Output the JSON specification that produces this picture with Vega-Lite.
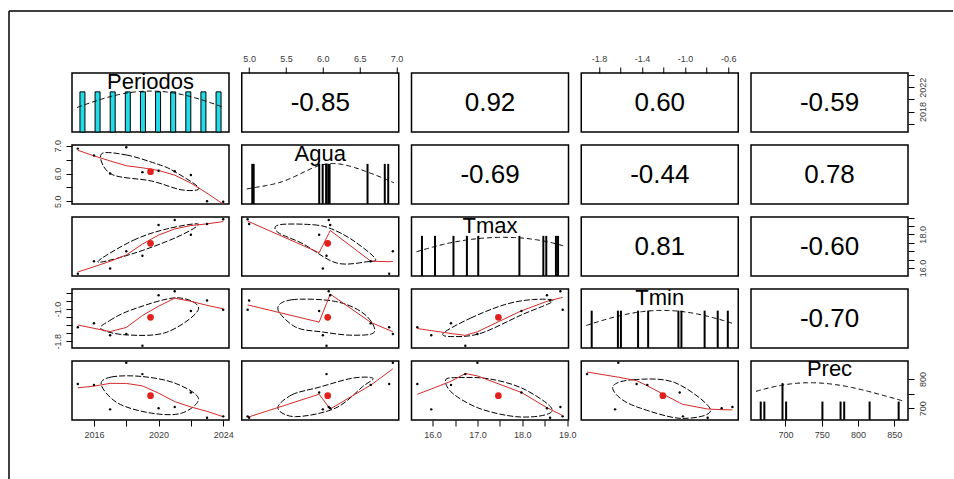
{
"$schema": "https://vega.github.io/schema/vega-lite/v6.json",
"padding": {"left": 8, "top": 10, "right": 0, "bottom": 0},
"autosize": {"type": "pad"},
"datasets": {
"d": [
{"Periodos":2015,"Agua":6.90,"Tmax":15.66,"Tmin":-1.45,"Prec":783},
{"Periodos":2016,"Agua":6.65,"Tmax":16.41,"Tmin":-1.35,"Prec":780},
{"Periodos":2017,"Agua":6.00,"Tmax":15.97,"Tmin":-1.65,"Prec":696},
{"Periodos":2018,"Agua":6.95,"Tmax":17.00,"Tmin":-1.62,"Prec":856},
{"Periodos":2019,"Agua":6.05,"Tmax":16.73,"Tmin":-1.91,"Prec":817},
{"Periodos":2020,"Agua":6.10,"Tmax":18.55,"Tmin":-0.66,"Prec":700},
{"Periodos":2021,"Agua":6.08,"Tmax":18.85,"Tmin":-0.56,"Prec":704},
{"Periodos":2022,"Agua":5.95,"Tmax":17.98,"Tmin":-1.05,"Prec":754},
{"Periodos":2023,"Agua":5.00,"Tmax":18.62,"Tmin":-0.79,"Prec":667},
{"Periodos":2024,"Agua":4.98,"Tmax":18.90,"Tmin":-1.02,"Prec":672}
],
"eA": [{"i":0,"Periodos":2016.45,"Agua":6.70},{"i":1,"Periodos":2018.0,"Agua":6.67},{"i":2,"Periodos":2019.98,"Agua":6.33},{"i":3,"Periodos":2020.93,"Agua":6.09},{"i":4,"Periodos":2022.49,"Agua":5.48},{"i":5,"Periodos":2021.43,"Agua":5.41},{"i":6,"Periodos":2019.56,"Agua":5.73},{"i":7,"Periodos":2017.07,"Agua":5.98}],
"eB": [{"i":0,"Periodos":2016.24,"Tmax":16.37},{"i":1,"Periodos":2018.42,"Tmax":17.64},{"i":2,"Periodos":2020.5,"Tmax":18.32},{"i":3,"Periodos":2022.47,"Tmax":18.61},{"i":4,"Periodos":2021.12,"Tmax":17.83},{"i":5,"Periodos":2018.42,"Tmax":16.86}],
"eC": [{"i":0,"Agua":5.41,"Tmax":18.57},{"i":1,"Agua":5.87,"Tmax":18.57},{"i":2,"Agua":6.12,"Tmax":18.32},{"i":3,"Agua":6.41,"Tmax":17.64},{"i":4,"Agua":6.71,"Tmax":16.57},{"i":5,"Agua":6.59,"Tmax":16.37},{"i":6,"Agua":6.18,"Tmax":16.31},{"i":7,"Agua":5.73,"Tmax":17.44},{"i":8,"Agua":5.39,"Tmax":18.12}],
"eD": [{"i":0,"Periodos":2016.45,"Tmin":-1.494},{"i":1,"Periodos":2016.96,"Tmin":-1.29},{"i":2,"Periodos":2018.42,"Tmin":-1.008},{"i":3,"Periodos":2021.12,"Tmin":-0.723},{"i":4,"Periodos":2022.47,"Tmin":-1.008},{"i":5,"Periodos":2020.5,"Tmin":-1.575},{"i":6,"Periodos":2018.0,"Tmin":-1.64}],
"eE": [{"i":0,"Agua":5.39,"Tmin":-1.0},{"i":1,"Agua":5.58,"Tmin":-0.772},{"i":2,"Agua":6.17,"Tmin":-0.813},{"i":3,"Agua":6.56,"Tmin":-1.12},{"i":4,"Agua":6.7,"Tmin":-1.567},{"i":5,"Agua":6.4,"Tmin":-1.648},{"i":6,"Agua":5.99,"Tmin":-1.567},{"i":7,"Agua":5.63,"Tmin":-1.446}],
"eF": [{"i":0,"Tmax":16.24,"Tmin":-1.599},{"i":1,"Tmax":16.85,"Tmin":-1.224},{"i":2,"Tmax":17.61,"Tmin":-0.891},{"i":3,"Tmax":18.23,"Tmin":-0.767},{"i":4,"Tmax":18.68,"Tmin":-0.808},{"i":5,"Tmax":17.99,"Tmin":-1.142},{"i":6,"Tmax":17.08,"Tmin":-1.599},{"i":7,"Tmax":16.47,"Tmin":-1.682}],
"eG": [{"i":0,"Periodos":2016.45,"Prec":780},{"i":1,"Periodos":2017.07,"Prec":807},{"i":2,"Periodos":2018.94,"Prec":809},{"i":3,"Periodos":2021.01,"Prec":786},{"i":4,"Periodos":2022.47,"Prec":734},{"i":5,"Periodos":2021.43,"Prec":683},{"i":6,"Periodos":2019.56,"Prec":683},{"i":7,"Periodos":2017.49,"Prec":717}],
"eH": [{"i":0,"Agua":5.39,"Prec":700},{"i":1,"Agua":5.58,"Prec":746},{"i":2,"Agua":5.95,"Prec":772},{"i":3,"Agua":6.4,"Prec":803},{"i":4,"Agua":6.68,"Prec":803},{"i":5,"Agua":6.54,"Prec":774},{"i":6,"Agua":6.17,"Prec":700},{"i":7,"Agua":5.63,"Prec":671}],
"eI": [{"i":0,"Tmax":16.29,"Prec":797},{"i":1,"Tmax":16.58,"Prec":805},{"i":2,"Tmax":17.25,"Prec":801},{"i":3,"Tmax":17.99,"Prec":769},{"i":4,"Tmax":18.63,"Prec":705},{"i":5,"Tmax":18.51,"Prec":677},{"i":6,"Tmax":17.85,"Prec":671},{"i":7,"Tmax":17.03,"Prec":700},{"i":8,"Tmax":16.44,"Prec":752}],
"eJ": [{"i":0,"Tmin":-1.667,"Prec":777},{"i":1,"Tmin":-1.477,"Prec":798},{"i":2,"Tmin":-1.096,"Prec":788},{"i":3,"Tmin":-0.763,"Prec":694},{"i":4,"Tmin":-1.033,"Prec":665},{"i":5,"Tmin":-1.413,"Prec":700},{"i":6,"Tmin":-1.604,"Prec":735}]
},
"hconcat": [
{"width": 63, "height": 469, "data": {"values": [{}]}, "view": {"stroke": null},
 "layer": [
  {"mark": {"type": "rule", "color": "black", "strokeWidth": 1.5}, "encoding": {"x": {"datum": 0, "type": "quantitative", "scale": {"domain": [0, 1]}, "axis": null}}},
  {"mark": {"type": "rule", "color": "black", "strokeWidth": 1.5}, "encoding": {"y": {"datum": 1, "type": "quantitative", "scale": {"domain": [0, 1]}, "axis": null}}}
 ]},
{"vconcat": [
 {"width": 881, "height": 62, "data": {"values": [{}]}, "view": {"stroke": null},
  "mark": {"type": "rule", "color": "black", "strokeWidth": 1.5}, "encoding": {"y": {"datum": 1, "type": "quantitative", "scale": {"domain": [0, 1]}, "axis": null}}},
 {"columns": 5, "spacing": {"row": 13, "column": 12.75}, "bounds": "flush",
  "concat": [
   {"width":157,"height":59,"data":{"name":"d"},"title":"Periodos",
    "encoding":{"x":{"field":"Periodos","type":"quantitative","scale":{"domain":[2014.64,2024.36],"nice":false,"zero":false},"axis":null}},
    "layer":[
     {"transform":[{"aggregate":[{"op":"count","as":"n"}],"groupby":["Periodos"]}],"mark":{"type":"bar","color":"#22dde8","stroke":"black","strokeWidth":1,"size":5},"encoding":{"y":{"field":"n","type":"quantitative","scale":{"domain":[0,1.47]},"axis":null}}},
     {"transform":[{"density":"Periodos","bandwidth":3.4,"extent":[2014.64,2024.36],"steps":120,"as":["Periodos","dens"]}],"mark":{"type":"line","color":"black","strokeWidth":1,"strokeDash":[5,3]},"encoding":{"y":{"field":"dens","type":"quantitative","scale":{"domain":[0,0.124]},"axis":null}}}
    ],"resolve":{"scale":{"y":"independent"}}},
   {"width":157,"height":59,
    "layer":[
     {"data":{"name":"d"},"mark":{"type":"point","opacity":0},"encoding":{"x":{"field":"Agua","type":"quantitative","scale":{"domain":[4.9,7.03],"nice":false,"zero":false},"axis":{"orient":"top","title":null,"values":[5,5.5,6,6.5,7],"format":".1f"}},"y":{"field":"Periodos","type":"quantitative","scale":{"domain":[2014.64,2024.36],"nice":false,"zero":false},"axis":null}}},
     {"data":{"values":[{"r":"-0.85"}]},"mark":{"type":"text","fontSize":26,"color":"black","align":"center","baseline":"middle"},"encoding":{"text":{"field":"r"}}}
    ]},
   {"width":157,"height":59,
    "layer":[
     {"data":{"name":"d"},"mark":{"type":"point","opacity":0},"encoding":{"x":{"field":"Tmax","type":"quantitative","scale":{"domain":[15.53,19.03],"nice":false,"zero":false},"axis":null},"y":{"field":"Periodos","type":"quantitative","scale":{"domain":[2014.64,2024.36],"nice":false,"zero":false},"axis":null}}},
     {"data":{"values":[{"r":"0.92"}]},"mark":{"type":"text","fontSize":26,"color":"black","align":"center","baseline":"middle"},"encoding":{"text":{"field":"r"}}}
    ]},
   {"width":157,"height":59,
    "layer":[
     {"data":{"name":"d"},"mark":{"type":"point","opacity":0},"encoding":{"x":{"field":"Tmin","type":"quantitative","scale":{"domain":[-1.964,-0.506],"nice":false,"zero":false},"axis":{"orient":"top","title":null,"values":[-1.8,-1.6,-1.4,-1.2,-1.0,-0.8,-0.6],"format":".1f","labelExpr":"round(abs(datum.value*10)) % 4 == 2 ? datum.label : ''"}},"y":{"field":"Periodos","type":"quantitative","scale":{"domain":[2014.64,2024.36],"nice":false,"zero":false},"axis":null}}},
     {"data":{"values":[{"r":"0.60"}]},"mark":{"type":"text","fontSize":26,"color":"black","align":"center","baseline":"middle"},"encoding":{"text":{"field":"r"}}}
    ]},
   {"width":157,"height":59,
    "layer":[
     {"data":{"name":"d"},"mark":{"type":"point","opacity":0},"encoding":{"x":{"field":"Prec","type":"quantitative","scale":{"domain":[659.5,862],"nice":false,"zero":false},"axis":null},"y":{"field":"Periodos","type":"quantitative","scale":{"domain":[2014.64,2024.36],"nice":false,"zero":false},"axis":{"orient":"right","title":null,"values":[2016,2018,2020,2022,2024],"format":"d","labelAngle":-90,"labelAlign":"center","labelBaseline":"top","labelExpr":"datum.value % 4 == 2 ? datum.label : ''"}}}},
     {"data":{"values":[{"r":"-0.59"}]},"mark":{"type":"text","fontSize":26,"color":"black","align":"center","baseline":"middle"},"encoding":{"text":{"field":"r"}}}
    ]},

   {"width":157,"height":59,"data":{"name":"d"},
    "encoding":{"x":{"field":"Periodos","type":"quantitative","scale":{"domain":[2014.64,2024.36],"nice":false,"zero":false},"axis":null},
                "y":{"field":"Agua","type":"quantitative","scale":{"domain":[4.9,7.03],"nice":false,"zero":false},"axis":{"orient":"left","title":null,"values":[5,5.5,6,6.5,7],"format":".1f","labelAngle":-90,"labelAlign":"center","labelBaseline":"bottom","labelExpr":"datum.value % 1 == 0 ? datum.label : ''"}}},
    "layer":[
     {"data":{"name":"eA"},"mark":{"type":"line","interpolate":"cardinal-closed","color":"black","strokeWidth":1,"strokeDash":[6,2],"clip":true},"encoding":{"order":{"field":"i","type":"quantitative"}}},
     {"transform":[{"loess":"Agua","on":"Periodos","bandwidth":0.67}],"mark":{"type":"line","color":"#d42a2a","strokeWidth":1}},
     {"mark":{"type":"circle","color":"black","size":6,"opacity":1}},
     {"transform":[{"aggregate":[{"op":"mean","field":"Periodos","as":"Periodos"},{"op":"mean","field":"Agua","as":"Agua"}]}],"mark":{"type":"circle","color":"#e3211c","size":45,"opacity":1}}
    ]},
   {"width":157,"height":59,"data":{"name":"d"},"title":"Agua",
    "encoding":{"x":{"field":"Agua","type":"quantitative","scale":{"domain":[4.9,7.03],"nice":false,"zero":false},"axis":null}},
    "layer":[
     {"transform":[{"aggregate":[{"op":"count","as":"n"}],"groupby":["Agua"]}],"mark":{"type":"bar","color":"black","size":2},"encoding":{"y":{"field":"n","type":"quantitative","scale":{"domain":[0,1.47]},"axis":null}}},
     {"transform":[{"density":"Agua","bandwidth":0.45,"extent":[4.9,7.03],"steps":120,"as":["Agua","dens"]}],"mark":{"type":"line","color":"black","strokeWidth":1,"strokeDash":[5,3]},"encoding":{"y":{"field":"dens","type":"quantitative","scale":{"domain":[0,0.76]},"axis":null}}}
    ],"resolve":{"scale":{"y":"independent"}}},
   {"width":157,"height":59,
    "layer":[
     {"data":{"name":"d"},"mark":{"type":"point","opacity":0},"encoding":{"x":{"field":"Tmax","type":"quantitative","scale":{"domain":[15.53,19.03],"nice":false,"zero":false},"axis":null},"y":{"field":"Agua","type":"quantitative","scale":{"domain":[4.9,7.03],"nice":false,"zero":false},"axis":null}}},
     {"data":{"values":[{"r":"-0.69"}]},"mark":{"type":"text","fontSize":26,"color":"black","align":"center","baseline":"middle"},"encoding":{"text":{"field":"r"}}}
    ]},
   {"width":157,"height":59,
    "layer":[
     {"data":{"name":"d"},"mark":{"type":"point","opacity":0},"encoding":{"x":{"field":"Tmin","type":"quantitative","scale":{"domain":[-1.964,-0.506],"nice":false,"zero":false},"axis":null},"y":{"field":"Agua","type":"quantitative","scale":{"domain":[4.9,7.03],"nice":false,"zero":false},"axis":null}}},
     {"data":{"values":[{"r":"-0.44"}]},"mark":{"type":"text","fontSize":26,"color":"black","align":"center","baseline":"middle"},"encoding":{"text":{"field":"r"}}}
    ]},
   {"width":157,"height":59,
    "layer":[
     {"data":{"name":"d"},"mark":{"type":"point","opacity":0},"encoding":{"x":{"field":"Prec","type":"quantitative","scale":{"domain":[659.5,862],"nice":false,"zero":false},"axis":null},"y":{"field":"Agua","type":"quantitative","scale":{"domain":[4.9,7.03],"nice":false,"zero":false},"axis":null}}},
     {"data":{"values":[{"r":"0.78"}]},"mark":{"type":"text","fontSize":26,"color":"black","align":"center","baseline":"middle"},"encoding":{"text":{"field":"r"}}}
    ]},

   {"width":157,"height":59,"data":{"name":"d"},
    "encoding":{"x":{"field":"Periodos","type":"quantitative","scale":{"domain":[2014.64,2024.36],"nice":false,"zero":false},"axis":null},
                "y":{"field":"Tmax","type":"quantitative","scale":{"domain":[15.53,19.03],"nice":false,"zero":false},"axis":null}},
    "layer":[
     {"data":{"name":"eB"},"mark":{"type":"line","interpolate":"cardinal-closed","color":"black","strokeWidth":1,"strokeDash":[6,2],"clip":true},"encoding":{"order":{"field":"i","type":"quantitative"}}},
     {"transform":[{"loess":"Tmax","on":"Periodos","bandwidth":0.67}],"mark":{"type":"line","color":"#d42a2a","strokeWidth":1}},
     {"mark":{"type":"circle","color":"black","size":6,"opacity":1}},
     {"transform":[{"aggregate":[{"op":"mean","field":"Periodos","as":"Periodos"},{"op":"mean","field":"Tmax","as":"Tmax"}]}],"mark":{"type":"circle","color":"#e3211c","size":45,"opacity":1}}
    ]},
   {"width":157,"height":59,"data":{"name":"d"},
    "encoding":{"x":{"field":"Agua","type":"quantitative","scale":{"domain":[4.9,7.03],"nice":false,"zero":false},"axis":null},
                "y":{"field":"Tmax","type":"quantitative","scale":{"domain":[15.53,19.03],"nice":false,"zero":false},"axis":null}},
    "layer":[
     {"data":{"name":"eC"},"mark":{"type":"line","interpolate":"cardinal-closed","color":"black","strokeWidth":1,"strokeDash":[6,2],"clip":true},"encoding":{"order":{"field":"i","type":"quantitative"}}},
     {"transform":[{"loess":"Tmax","on":"Agua","bandwidth":0.67}],"mark":{"type":"line","color":"#d42a2a","strokeWidth":1}},
     {"mark":{"type":"circle","color":"black","size":6,"opacity":1}},
     {"transform":[{"aggregate":[{"op":"mean","field":"Agua","as":"Agua"},{"op":"mean","field":"Tmax","as":"Tmax"}]}],"mark":{"type":"circle","color":"#e3211c","size":45,"opacity":1}}
    ]},
   {"width":157,"height":59,"data":{"name":"d"},"title":"Tmax",
    "encoding":{"x":{"field":"Tmax","type":"quantitative","scale":{"domain":[15.53,19.03],"nice":false,"zero":false},"axis":null}},
    "layer":[
     {"transform":[{"aggregate":[{"op":"count","as":"n"}],"groupby":["Tmax"]}],"mark":{"type":"bar","color":"black","size":2},"encoding":{"y":{"field":"n","type":"quantitative","scale":{"domain":[0,1.47]},"axis":null}}},
     {"transform":[{"density":"Tmax","bandwidth":1.3,"extent":[15.53,19.03],"steps":120,"as":["Tmax","dens"]}],"mark":{"type":"line","color":"black","strokeWidth":1,"strokeDash":[5,3]},"encoding":{"y":{"field":"dens","type":"quantitative","scale":{"domain":[0,0.32]},"axis":null}}}
    ],"resolve":{"scale":{"y":"independent"}}},
   {"width":157,"height":59,
    "layer":[
     {"data":{"name":"d"},"mark":{"type":"point","opacity":0},"encoding":{"x":{"field":"Tmin","type":"quantitative","scale":{"domain":[-1.964,-0.506],"nice":false,"zero":false},"axis":null},"y":{"field":"Tmax","type":"quantitative","scale":{"domain":[15.53,19.03],"nice":false,"zero":false},"axis":null}}},
     {"data":{"values":[{"r":"0.81"}]},"mark":{"type":"text","fontSize":26,"color":"black","align":"center","baseline":"middle"},"encoding":{"text":{"field":"r"}}}
    ]},
   {"width":157,"height":59,
    "layer":[
     {"data":{"name":"d"},"mark":{"type":"point","opacity":0},"encoding":{"x":{"field":"Prec","type":"quantitative","scale":{"domain":[659.5,862],"nice":false,"zero":false},"axis":null},"y":{"field":"Tmax","type":"quantitative","scale":{"domain":[15.53,19.03],"nice":false,"zero":false},"axis":{"orient":"right","title":null,"values":[16,16.5,17,17.5,18,18.5,19],"format":".1f","labelAngle":-90,"labelAlign":"center","labelBaseline":"top","labelExpr":"datum.value % 2 == 0 ? datum.label : ''"}}}},
     {"data":{"values":[{"r":"-0.60"}]},"mark":{"type":"text","fontSize":26,"color":"black","align":"center","baseline":"middle"},"encoding":{"text":{"field":"r"}}}
    ]},

   {"width":157,"height":59,"data":{"name":"d"},
    "encoding":{"x":{"field":"Periodos","type":"quantitative","scale":{"domain":[2014.64,2024.36],"nice":false,"zero":false},"axis":null},
                "y":{"field":"Tmin","type":"quantitative","scale":{"domain":[-1.964,-0.506],"nice":false,"zero":false},"axis":{"orient":"left","title":null,"values":[-1.8,-1.6,-1.4,-1.2,-1.0,-0.8,-0.6],"format":".1f","labelAngle":-90,"labelAlign":"center","labelBaseline":"bottom","labelExpr":"round(abs(datum.value*10)) % 8 == 2 ? datum.label : ''"}}},
    "layer":[
     {"data":{"name":"eD"},"mark":{"type":"line","interpolate":"cardinal-closed","color":"black","strokeWidth":1,"strokeDash":[6,2],"clip":true},"encoding":{"order":{"field":"i","type":"quantitative"}}},
     {"transform":[{"loess":"Tmin","on":"Periodos","bandwidth":0.67}],"mark":{"type":"line","color":"#d42a2a","strokeWidth":1}},
     {"mark":{"type":"circle","color":"black","size":6,"opacity":1}},
     {"transform":[{"aggregate":[{"op":"mean","field":"Periodos","as":"Periodos"},{"op":"mean","field":"Tmin","as":"Tmin"}]}],"mark":{"type":"circle","color":"#e3211c","size":45,"opacity":1}}
    ]},
   {"width":157,"height":59,"data":{"name":"d"},
    "encoding":{"x":{"field":"Agua","type":"quantitative","scale":{"domain":[4.9,7.03],"nice":false,"zero":false},"axis":null},
                "y":{"field":"Tmin","type":"quantitative","scale":{"domain":[-1.964,-0.506],"nice":false,"zero":false},"axis":null}},
    "layer":[
     {"data":{"name":"eE"},"mark":{"type":"line","interpolate":"cardinal-closed","color":"black","strokeWidth":1,"strokeDash":[6,2],"clip":true},"encoding":{"order":{"field":"i","type":"quantitative"}}},
     {"transform":[{"loess":"Tmin","on":"Agua","bandwidth":0.67}],"mark":{"type":"line","color":"#d42a2a","strokeWidth":1}},
     {"mark":{"type":"circle","color":"black","size":6,"opacity":1}},
     {"transform":[{"aggregate":[{"op":"mean","field":"Agua","as":"Agua"},{"op":"mean","field":"Tmin","as":"Tmin"}]}],"mark":{"type":"circle","color":"#e3211c","size":45,"opacity":1}}
    ]},
   {"width":157,"height":59,"data":{"name":"d"},
    "encoding":{"x":{"field":"Tmax","type":"quantitative","scale":{"domain":[15.53,19.03],"nice":false,"zero":false},"axis":null},
                "y":{"field":"Tmin","type":"quantitative","scale":{"domain":[-1.964,-0.506],"nice":false,"zero":false},"axis":null}},
    "layer":[
     {"data":{"name":"eF"},"mark":{"type":"line","interpolate":"cardinal-closed","color":"black","strokeWidth":1,"strokeDash":[6,2],"clip":true},"encoding":{"order":{"field":"i","type":"quantitative"}}},
     {"transform":[{"loess":"Tmin","on":"Tmax","bandwidth":0.67}],"mark":{"type":"line","color":"#d42a2a","strokeWidth":1}},
     {"mark":{"type":"circle","color":"black","size":6,"opacity":1}},
     {"transform":[{"aggregate":[{"op":"mean","field":"Tmax","as":"Tmax"},{"op":"mean","field":"Tmin","as":"Tmin"}]}],"mark":{"type":"circle","color":"#e3211c","size":45,"opacity":1}}
    ]},
   {"width":157,"height":59,"data":{"name":"d"},"title":"Tmin",
    "encoding":{"x":{"field":"Tmin","type":"quantitative","scale":{"domain":[-1.964,-0.506],"nice":false,"zero":false},"axis":null}},
    "layer":[
     {"transform":[{"aggregate":[{"op":"count","as":"n"}],"groupby":["Tmin"]}],"mark":{"type":"bar","color":"black","size":2},"encoding":{"y":{"field":"n","type":"quantitative","scale":{"domain":[0,1.58]},"axis":null}}},
     {"transform":[{"density":"Tmin","bandwidth":0.55,"extent":[-1.964,-0.506],"steps":120,"as":["Tmin","dens"]}],"mark":{"type":"line","color":"black","strokeWidth":1,"strokeDash":[5,3]},"encoding":{"y":{"field":"dens","type":"quantitative","scale":{"domain":[0,0.86]},"axis":null}}}
    ],"resolve":{"scale":{"y":"independent"}}},
   {"width":157,"height":59,
    "layer":[
     {"data":{"name":"d"},"mark":{"type":"point","opacity":0},"encoding":{"x":{"field":"Prec","type":"quantitative","scale":{"domain":[659.5,862],"nice":false,"zero":false},"axis":null},"y":{"field":"Tmin","type":"quantitative","scale":{"domain":[-1.964,-0.506],"nice":false,"zero":false},"axis":null}}},
     {"data":{"values":[{"r":"-0.70"}]},"mark":{"type":"text","fontSize":26,"color":"black","align":"center","baseline":"middle"},"encoding":{"text":{"field":"r"}}}
    ]},

   {"width":157,"height":59,"data":{"name":"d"},
    "encoding":{"x":{"field":"Periodos","type":"quantitative","scale":{"domain":[2014.64,2024.36],"nice":false,"zero":false},"axis":{"orient":"bottom","title":null,"values":[2016,2018,2020,2022,2024],"format":"d","labelExpr":"datum.value % 4 == 0 ? datum.label : ''"}},
                "y":{"field":"Prec","type":"quantitative","scale":{"domain":[659.5,862],"nice":false,"zero":false},"axis":null}},
    "layer":[
     {"data":{"name":"eG"},"mark":{"type":"line","interpolate":"cardinal-closed","color":"black","strokeWidth":1,"strokeDash":[6,2],"clip":true},"encoding":{"order":{"field":"i","type":"quantitative"}}},
     {"transform":[{"loess":"Prec","on":"Periodos","bandwidth":0.67}],"mark":{"type":"line","color":"#d42a2a","strokeWidth":1}},
     {"mark":{"type":"circle","color":"black","size":6,"opacity":1}},
     {"transform":[{"aggregate":[{"op":"mean","field":"Periodos","as":"Periodos"},{"op":"mean","field":"Prec","as":"Prec"}]}],"mark":{"type":"circle","color":"#e3211c","size":45,"opacity":1}}
    ]},
   {"width":157,"height":59,"data":{"name":"d"},
    "encoding":{"x":{"field":"Agua","type":"quantitative","scale":{"domain":[4.9,7.03],"nice":false,"zero":false},"axis":null},
                "y":{"field":"Prec","type":"quantitative","scale":{"domain":[659.5,862],"nice":false,"zero":false},"axis":null}},
    "layer":[
     {"data":{"name":"eH"},"mark":{"type":"line","interpolate":"cardinal-closed","color":"black","strokeWidth":1,"strokeDash":[6,2],"clip":true},"encoding":{"order":{"field":"i","type":"quantitative"}}},
     {"transform":[{"loess":"Prec","on":"Agua","bandwidth":0.67}],"mark":{"type":"line","color":"#d42a2a","strokeWidth":1}},
     {"mark":{"type":"circle","color":"black","size":6,"opacity":1}},
     {"transform":[{"aggregate":[{"op":"mean","field":"Agua","as":"Agua"},{"op":"mean","field":"Prec","as":"Prec"}]}],"mark":{"type":"circle","color":"#e3211c","size":45,"opacity":1}}
    ]},
   {"width":157,"height":59,"data":{"name":"d"},
    "encoding":{"x":{"field":"Tmax","type":"quantitative","scale":{"domain":[15.53,19.03],"nice":false,"zero":false},"axis":{"orient":"bottom","title":null,"values":[16,16.5,17,17.5,18,18.5,19],"format":".1f","labelExpr":"datum.value % 1 == 0 ? datum.label : ''"}},
                "y":{"field":"Prec","type":"quantitative","scale":{"domain":[659.5,862],"nice":false,"zero":false},"axis":null}},
    "layer":[
     {"data":{"name":"eI"},"mark":{"type":"line","interpolate":"cardinal-closed","color":"black","strokeWidth":1,"strokeDash":[6,2],"clip":true},"encoding":{"order":{"field":"i","type":"quantitative"}}},
     {"transform":[{"loess":"Prec","on":"Tmax","bandwidth":0.67}],"mark":{"type":"line","color":"#d42a2a","strokeWidth":1}},
     {"mark":{"type":"circle","color":"black","size":6,"opacity":1}},
     {"transform":[{"aggregate":[{"op":"mean","field":"Tmax","as":"Tmax"},{"op":"mean","field":"Prec","as":"Prec"}]}],"mark":{"type":"circle","color":"#e3211c","size":45,"opacity":1}}
    ]},
   {"width":157,"height":59,"data":{"name":"d"},
    "encoding":{"x":{"field":"Tmin","type":"quantitative","scale":{"domain":[-1.964,-0.506],"nice":false,"zero":false},"axis":null},
                "y":{"field":"Prec","type":"quantitative","scale":{"domain":[659.5,862],"nice":false,"zero":false},"axis":null}},
    "layer":[
     {"data":{"name":"eJ"},"mark":{"type":"line","interpolate":"cardinal-closed","color":"black","strokeWidth":1,"strokeDash":[6,2],"clip":true},"encoding":{"order":{"field":"i","type":"quantitative"}}},
     {"transform":[{"loess":"Prec","on":"Tmin","bandwidth":0.67}],"mark":{"type":"line","color":"#d42a2a","strokeWidth":1}},
     {"mark":{"type":"circle","color":"black","size":6,"opacity":1}},
     {"transform":[{"aggregate":[{"op":"mean","field":"Tmin","as":"Tmin"},{"op":"mean","field":"Prec","as":"Prec"}]}],"mark":{"type":"circle","color":"#e3211c","size":45,"opacity":1}}
    ]},
   {"width":157,"height":59,"data":{"name":"d"},"title":"Prec",
    "encoding":{"x":{"field":"Prec","type":"quantitative","scale":{"domain":[659.5,862],"nice":false,"zero":false},"axis":{"orient":"bottom","title":null,"values":[700,750,800,850],"format":"d"}}},
    "layer":[
     {"transform":[{"bin":{"step":5,"anchor":696},"field":"Prec","as":["Prec","Prec_end"]},{"aggregate":[{"op":"count","as":"n"}],"groupby":["Prec"]}],"mark":{"type":"bar","color":"black","size":2},"encoding":{"y":{"field":"n","type":"quantitative","scale":{"domain":[0,3.2]},"axis":null}}},
     {"transform":[{"density":"Prec","bandwidth":80,"extent":[659.5,862],"steps":120,"as":["Prec","dens"]}],"mark":{"type":"line","color":"black","strokeWidth":1,"strokeDash":[5,3]},"encoding":{"y":{"field":"dens","type":"quantitative","scale":{"domain":[0,0.0061]},"axis":null}}},
     {"mark":{"type":"point","opacity":0},"encoding":{"y":{"field":"Prec","type":"quantitative","scale":{"domain":[659.5,862],"nice":false,"zero":false},"axis":{"orient":"right","title":null,"values":[700,750,800],"format":"d","labelAngle":-90,"labelAlign":"center","labelBaseline":"top","labelExpr":"datum.value % 100 == 0 ? datum.label : ''"}}}}
    ],"resolve":{"scale":{"y":"independent"}}}
  ]}
 ], "spacing": 0, "bounds": "flush"}
],
"spacing": 0,
"bounds": "flush",
"config": {
 "font": "Liberation Sans",
 "view": {"stroke": "black", "strokeWidth": 1.5},
 "axis": {"grid": false, "domain": false, "ticks": true, "tickColor": "black", "tickWidth": 1, "tickSize": 6, "labelColor": "#3a3a3a", "labelFontSize": 9, "labelFont": "Liberation Sans", "labelPadding": 4, "labelOverlap": false, "labelFlush": false, "labelBound": false},
 "title": {"fontSize": 22, "fontWeight": "normal", "font": "Liberation Sans", "color": "black", "offset": -21, "anchor": "middle"},
 "text": {"font": "Liberation Sans"},
 "locale": {"number": {"decimal": ".", "thousands": ",", "grouping": [3], "currency": ["", ""], "minus": "-"}}
}
}
